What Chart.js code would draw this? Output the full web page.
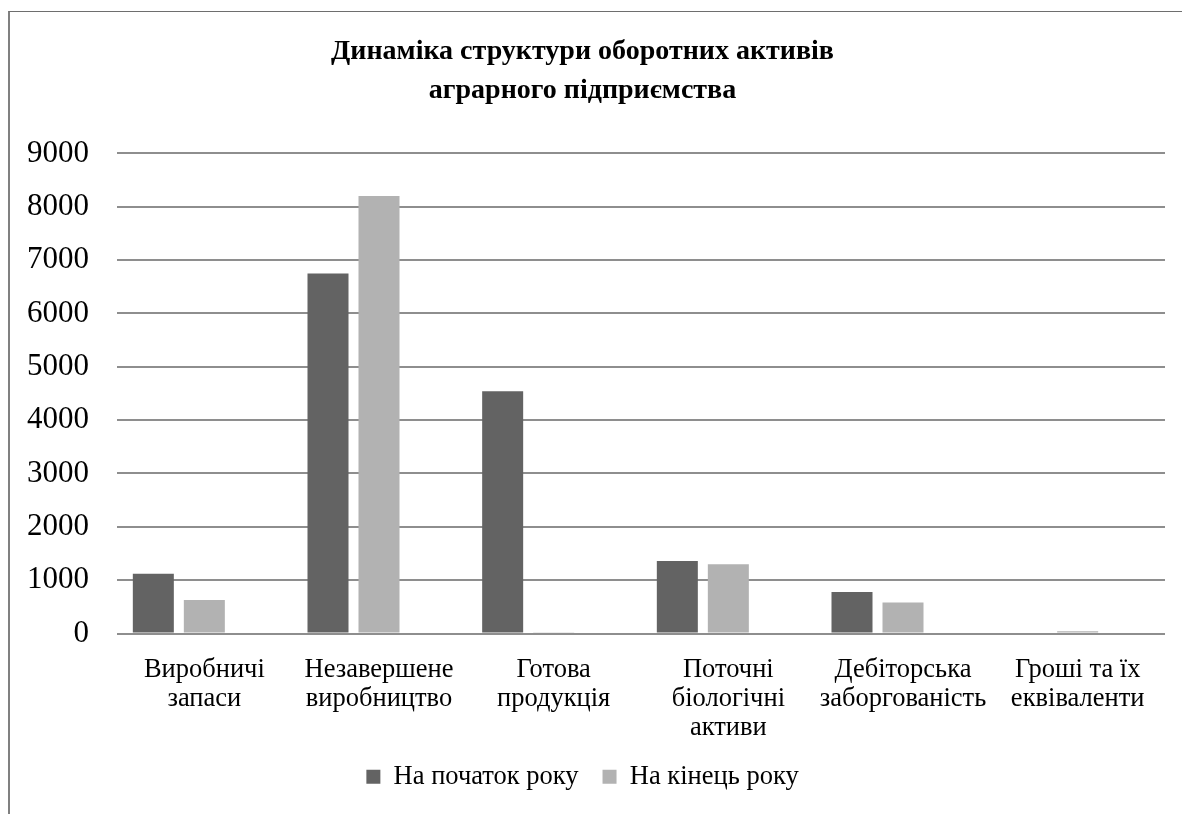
<!DOCTYPE html>
<html lang="uk">
<head>
<meta charset="utf-8">
<title>Динаміка структури оборотних активів</title>
<script src="https://cdn.jsdelivr.net/npm/chart.js@4/dist/chart.umd.min.js"></script>
<style>
    html, body {
        margin: 0;
        padding: 0;
        background: #fff;
        overflow: hidden;
    }
    .frame {
        position: absolute;
        left: 8px;
        top: 11px;
        width: 1300px;
        height: 900px;
        border-left: 2px solid #808080;
        border-top: 1px solid #6e6e6e;
    }
    .container-grap {
        position: absolute;
        left: 0;
        top: 0;
        width: 1182px;
        height: 814px;
    }
</style>
</head>
<body>
<div class="frame"></div>
<div class="container-grap">
    <canvas id="myChart" width="1182" height="814"></canvas>
</div>
<script>
// categories (multi-line labels)
let categories = [
    ['Виробничі', 'запаси'],
    ['Незавершене', 'виробництво'],
    ['Готова', 'продукція'],
    ['Поточні', 'біологічні', 'активи'],
    ['Дебіторська', 'заборгованість'],
    ['Гроші та їх', 'еквіваленти']
];

// series
let startLabel = 'На початок року';
let endLabel = 'На кінець року';
let startYear = [1120, 6750, 4540, 1360, 780, 20];
let endYear = [630, 8200, 25, 1300, 580, 40];

// y axis
let yTicks = [0, 1000, 2000, 3000, 4000, 5000, 6000, 7000, 8000, 9000];

let serif = "'Liberation Serif', 'Times New Roman', serif";

var ctx = document.getElementById('myChart').getContext('2d');
var chart = new Chart(ctx, {
    type: 'bar',
    data: {
        labels: categories,
        datasets: [{
            label: startLabel,
            backgroundColor: '#636363',
            data: startYear
        }, {
            label: endLabel,
            backgroundColor: '#b2b2b2',
            data: endYear
        }, {
            // empty third slot in every group
            label: '',
            backgroundColor: 'rgba(0,0,0,0)',
            data: categories.map(function () { return null; })
        }]
    },
    options: {
        responsive: false,
        animation: false,
        categoryPercentage: 0.876,
        barPercentage: 0.804,
        layout: {
            padding: { left: 0, right: 17, top: 32, bottom: 14 }
        },
        plugins: {
            title: {
                display: true,
                text: ['Динаміка структури оборотних активів', 'аграрного підприємства'],
                color: '#000',
                font: { family: serif, size: 28, weight: 'bold', lineHeight: 1.4 },
                padding: { top: 0, bottom: 43 }
            },
            legend: {
                position: 'bottom',
                labels: {
                    filter: function (item) {
                        return item.datasetIndex < 2;
                    },
                    color: '#000',
                    font: { family: serif, size: 26.5 },
                    boxWidth: 14,
                    boxHeight: 14,
                    padding: 24
                }
            },
            tooltip: { enabled: false }
        },
        scales: {
            x: {
                afterFit: function (scale) {
                    scale.height = 106;
                },
                grid: { display: false },
                border: { display: false },
                ticks: {
                    color: '#000',
                    font: { family: serif, size: 26.5, lineHeight: 1.1 },
                    maxRotation: 0,
                    autoSkip: false,
                    padding: 14
                }
            },
            y: {
                min: 0,
                max: 9000,
                afterFit: function (scale) {
                    scale.width = 117;
                },
                afterBuildTicks: function (scale) {
                    scale.ticks = yTicks.map(function (v) { return { value: v }; });
                },
                grid: {
                    color: '#8e8e8e',
                    lineWidth: 2,
                    drawTicks: false
                },
                border: { display: false },
                ticks: {
                    color: '#000',
                    font: { family: serif, size: 31 },
                    padding: 28,
                    callback: function (value) {
                        return String(value);
                    }
                }
            }
        }
    }
});
</script>
</body>
</html>
